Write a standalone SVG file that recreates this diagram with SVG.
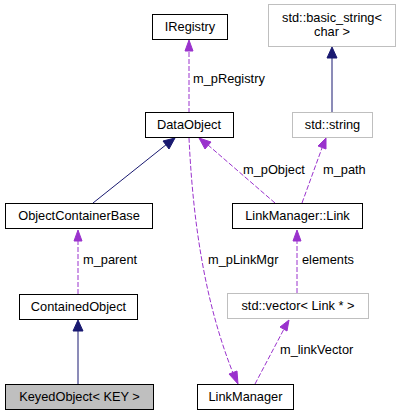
<svg xmlns="http://www.w3.org/2000/svg" width="400" height="416" viewBox="0 0 400 416">
<defs>
<style>
text{font-family:"Liberation Sans",Arial,sans-serif;font-size:12.8px;fill:#000}
.n{text-anchor:middle}
.box{fill:#fff;stroke:#000;stroke-width:1}
.gbox{fill:#fff;stroke:#bfbfbf;stroke-width:1}
.cur{fill:#bfbfbf;stroke:#000;stroke-width:1}
.inh{fill:none;stroke:#191970;stroke-width:1}
.use{fill:none;stroke:#9a32cd;stroke-width:1;stroke-dasharray:5,2}
.ah{fill:#191970;stroke:#191970}
.ap{fill:#9a32cd;stroke:#9a32cd}
</style>
</defs>
<rect width="400" height="416" fill="#fff"/>
<g id="edges">
<path class="use" d="M189,113 L189,50"/>
<polygon class="ap" points="189,40 185,51 193,51"/>
<text x="193" y="83">m_pRegistry</text>
<path class="inh" d="M332,113 L332,57"/>
<polygon class="ah" points="332,47 327,58 337,58"/>
<path class="inh" d="M93,203 L167,144"/>
<polygon class="ah" points="175,138 163,141 169,149"/>
<path class="use" d="M275,203 L208,145"/>
<polygon class="ap" points="199,138 205,149 211,142"/>
<text x="243" y="174">m_pObject</text>
<path class="use" d="M302,203 L322,148"/>
<polygon class="ap" points="326,138 318,146 326,149"/>
<text x="323" y="174">m_path</text>
<path class="use" d="M78,294 L78,240"/>
<polygon class="ap" points="78,230 74,241 82,241"/>
<text x="83" y="264">m_parent</text>
<path class="use" d="M297,293 L297,240"/>
<polygon class="ap" points="297,230 293,241 301,241"/>
<text x="302" y="264">elements</text>
<path class="inh" d="M78,384 L78,330"/>
<polygon class="ah" points="78,320 73,331 83,331"/>
<path class="use" d="M189,138 C192,200 200,290 233,373"/>
<polygon class="ap" points="238,384 237,371 229,374"/>
<text x="208" y="264">m_pLinkMgr</text>
<path class="use" d="M255,384 L284,329"/>
<polygon class="ap" points="289,320 280,327 287,331"/>
<text x="280" y="354">m_linkVector</text>
</g>
<g id="IRegistry"><rect class="box" x="152.5" y="14.5" width="75" height="25"/><text class="n" x="190" y="31">IRegistry</text></g>
<g id="basic_string"><rect class="gbox" x="268.5" y="4.5" width="127" height="42"/><text class="n" x="332" y="22">std::basic_string&lt;</text><text class="n" x="332" y="36">char &gt;</text></g>
<g id="DataObject"><rect class="box" x="145.5" y="112.5" width="88" height="25"/><text class="n" x="189" y="129">DataObject</text></g>
<g id="std_string"><rect class="gbox" x="292.5" y="112.5" width="80" height="25"/><text class="n" x="332.5" y="129">std::string</text></g>
<g id="ObjectContainerBase"><rect class="box" x="5.5" y="203.5" width="147" height="25"/><text class="n" x="79" y="220">ObjectContainerBase</text></g>
<g id="Link"><rect class="box" x="232.5" y="203.5" width="130" height="25"/><text class="n" x="297.5" y="220">LinkManager::Link</text></g>
<g id="ContainedObject"><rect class="box" x="19.5" y="294.5" width="118" height="25"/><text class="n" x="78.5" y="311">ContainedObject</text></g>
<g id="vector"><rect class="gbox" x="227.5" y="293.5" width="141" height="25"/><text class="n" x="298" y="310">std::vector&lt; Link * &gt;</text></g>
<g id="KeyedObject"><rect class="cur" x="5.5" y="384.5" width="148" height="25"/><text class="n" x="79.5" y="401">KeyedObject&lt; KEY &gt;</text></g>
<g id="LinkManager"><rect class="box" x="197.5" y="384.5" width="96" height="25"/><text class="n" x="245.5" y="401">LinkManager</text></g>
</svg>
